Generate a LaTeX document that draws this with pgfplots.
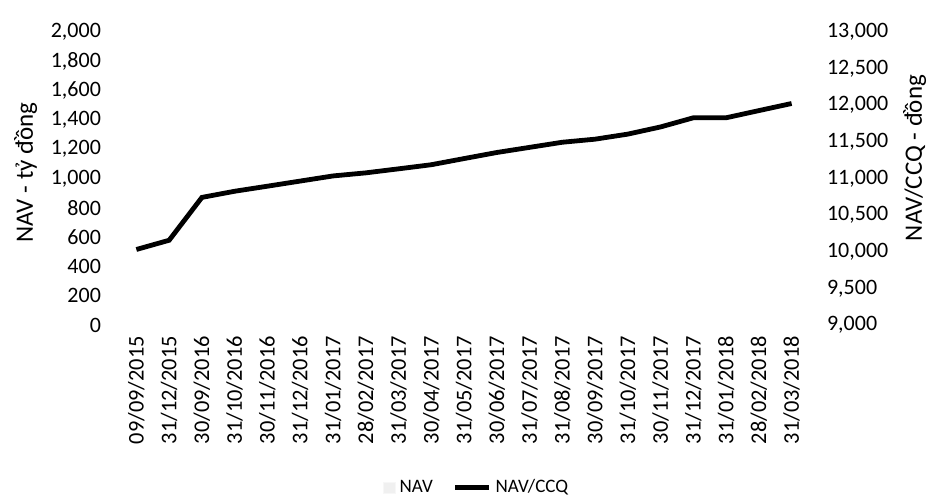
\documentclass[border=0pt]{standalone}
\usepackage{pgfplots}
\pgfplotsset{compat=1.18}
\usepackage{fontspec}
\setmainfont{Carlito}

\pgfplotstableread{
x nav
0 10031
1 10157
2 10742
3 10826
4 10895
5 10965
6 11035
7 11077
8 11132
9 11188
10 11272
11 11355
12 11425
13 11495
14 11537
15 11606
16 11704
17 11829
18 11829
19 11927
20 12024
}\navccq

\begin{document}
\begin{tikzpicture}
% page size fixed to the reference: axis sits at the origin
\useasboundingbox (-60pt,-87.5pt) rectangle (406.5pt,162.5pt);
\pgfplotsset{
    every axis/.append style={
        width=344pt, height=146.5pt,
        scale only axis,
        xmin=-0.5, xmax=20.5,
        axis line style={draw=none},
        tick style={draw=none},
        font=\fontsize{11}{13}\selectfont,
        /pgf/number format/assume math mode=true,
        /pgf/number format/1000 sep={,},
        scaled y ticks=false,
    },
}
\begin{axis}[
    name=ax,
    ymin=0, ymax=2000,
    ytick={0,200,...,2000},
    xtick={0,...,20},
    xticklabels={09/09/2015,31/12/2015,30/09/2016,31/10/2016,30/11/2016,31/12/2016,31/01/2017,28/02/2017,31/03/2017,30/04/2017,31/05/2017,30/06/2017,31/07/2017,31/08/2017,30/09/2017,31/10/2017,30/11/2017,31/12/2017,31/01/2018,28/02/2018,31/03/2018},
    xticklabel style={rotate=90, anchor=east, xshift=-2pt, font=\fontsize{11.2}{13}\selectfont},
    yticklabel style={xshift=-6pt},
    ylabel={NAV - tỷ đồng},
    ylabel style={at={(axis description cs:-0.137,0.52)}, anchor=center, font=\fontsize{12.5}{15}\selectfont},
    legend style={at={(0.52,-0.555)}, anchor=center, draw=none, legend columns=2,
        inner sep=1pt,
        font=\fontsize{9.5}{11}\selectfont,
        /tikz/every even column/.append style={column sep=8pt}},
    legend image code/.code={\draw[#1] (-0.3cm,-0.1cm) rectangle (-0.1cm,0.1cm);},
]
\addlegendimage{fill=black!6, draw=black!3}
\addlegendentry{NAV}
\addlegendimage{line legend, black, line width=2.4pt}
\addlegendentry{NAV/CCQ}
\end{axis}
\begin{axis}[
    ymin=9000, ymax=13000,
    ytick={9000,9500,...,13000},
    xtick=\empty,
    axis y line*=right,
    axis x line=none,
    yticklabel style={xshift=6pt},
    ylabel={NAV/CCQ - đồng},
    ylabel style={at={(axis description cs:1.155,0.57)}, anchor=center, rotate=0, font=\fontsize{12.5}{15}\selectfont},
]
\addplot[black, line width=2.4pt] table[x=x, y=nav] {\navccq};
\end{axis}
\end{tikzpicture}
\end{document}
